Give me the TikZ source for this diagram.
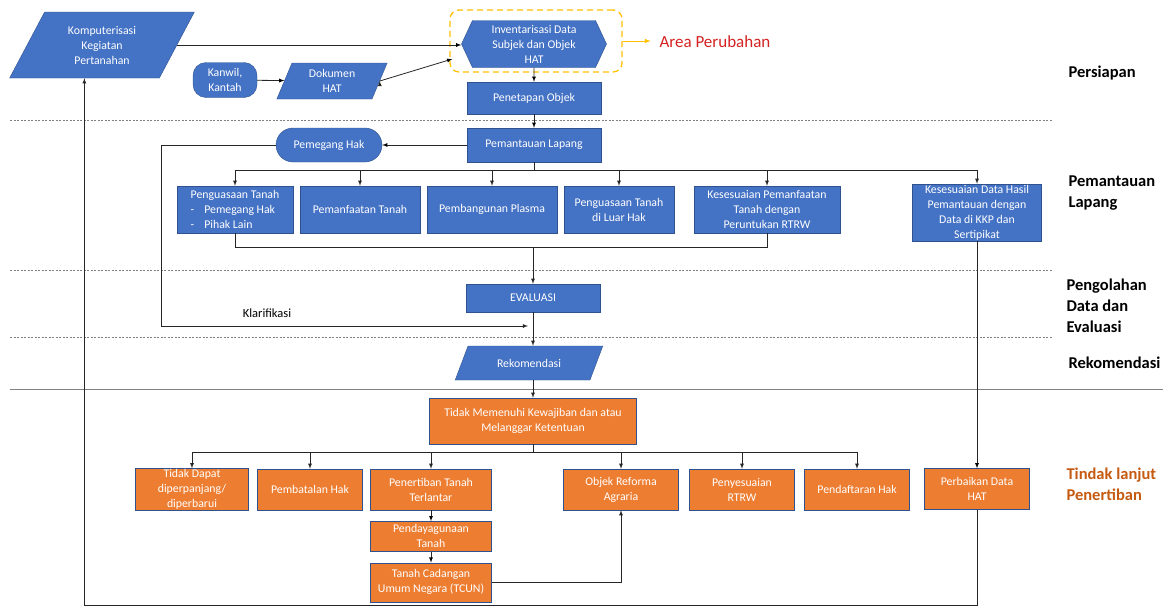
\documentclass[tikz,border=0pt]{standalone}
\usepackage{fontspec}
\setmainfont{Carlito}
\usepackage{tikz}
\usetikzlibrary{arrows}
\usetikzlibrary{positioning}
\usetikzlibrary{shapes.geometric}
\usetikzlibrary{shapes.symbols}

\definecolor{boxblue}{HTML}{4472C4}
\definecolor{lineblue}{HTML}{2F528F}
\definecolor{boxorange}{HTML}{ED7D31}
\definecolor{areagold}{HTML}{FFC000}
\definecolor{areared}{HTML}{D42222}
\definecolor{phaseorange}{HTML}{C55A11}
\definecolor{sepgray}{HTML}{808080}

\tikzset{
    box/.style={draw=lineblue, fill=boxblue, text=white, align=center, inner sep=1pt,
        font=\fontsize{11.8}{15}\selectfont},
    obox/.style={box, fill=boxorange},
    io/.style={box, trapezium, trapezium stretches=true},
    term/.style={box, rounded corners=#1},
    prep/.style={box, signal, signal to=west and east, signal pointer angle=130},
    phase/.style={anchor=west, align=left, font=\fontsize{16.5}{21}\selectfont\bfseries},
    sep/.style={draw=sepgray, line width=0.6pt, dash pattern=on 2pt off 1.5pt},
    conn/.style={draw=black!85, line width=0.8pt},
}

\begin{document}
\begin{tikzpicture}[x=1pt, y=-1pt, >=latex, node distance=10pt]
        \useasboundingbox (0,0) rectangle (1172,608);

        % persiapan
        \node [io, trapezium left angle=62, trapezium right angle=118,
            minimum width=185, minimum height=66] (komp) at (102,45)
            {Komputerisasi\\Kegiatan\\Pertanahan};
        \node [term=13pt, minimum width=64, minimum height=35] (kanwil) at (225,80) {Kanwil,\\Kantah};
        \node [io, trapezium left angle=70, trapezium right angle=110,
            minimum width=111, minimum height=36] (dok) at (332,81) {Dokumen\\HAT};
        \node [prep, minimum width=145, minimum height=47] (inv) at (534,44)
            {Inventarisasi Data\\Subjek dan Objek\\HAT};
        \node [draw=areagold, line width=1.3pt, dash pattern=on 6pt off 4pt, rounded corners=9pt,
            minimum width=172, minimum height=62] (area) at (536,41) {};
        \node [anchor=west, text=areared, font=\fontsize{17}{20}\selectfont] (arealbl) at (656,42) {Area Perubahan};
        \node [box, minimum width=134, minimum height=32] (penetapan) at (534,98) {Penetapan Objek};

        % pemantauan lapang
        \node [box, minimum width=134, minimum height=34] (pemantauan) at (534,145) {Pemantauan Lapang};
        \node [term=17pt, minimum width=106, minimum height=34] (pemegang) at (329,145) {Pemegang Hak};
        \node [box, align=left, minimum width=116, minimum height=47] (pt1) at (235,209.5)
            {Penguasaan Tanah\\-\hspace{10pt}Pemegang Hak\\-\hspace{10pt}Pihak Lain};
        \node [box, minimum width=120, minimum height=47] (pt2) at (360,209.5) {Pemanfaatan Tanah};
        \node [box, minimum width=130, minimum height=47] (pt3) at (492,209.5) {Pembangunan Plasma};
        \node [box, minimum width=110, minimum height=47] (pt4) at (619,209.5) {Penguasaan Tanah\\di Luar Hak};
        \node [box, minimum width=146, minimum height=47] (pt5) at (767,209.5)
            {Kesesuaian Pemanfaatan\\Tanah dengan\\Peruntukan RTRW};
        \node [box, minimum width=129, minimum height=55] (pt6) at (977,212.5)
            {Kesesuaian Data Hasil\\Pemantauan dengan\\Data di KKP dan\\Sertipikat};

        % evaluasi dan rekomendasi
        \node [box, minimum width=134, minimum height=28] (evaluasi) at (533,298) {EVALUASI};
        \node [io, trapezium left angle=56, trapezium right angle=124,
            minimum width=148, minimum height=34] (rekom) at (529,363) {Rekomendasi};
        \node [font=\fontsize{12.5}{14}\selectfont] (klarlbl) at (267,313) {Klarifikasi};
        \coordinate (klar) at (528,326);
        \coordinate (join) at (533,247);

        % tindak lanjut
        \node [obox, minimum width=207, minimum height=46] (tidak) at (533,421)
            {Tidak Memenuhi Kewajiban dan atau\\Melanggar Ketentuan};
        \node [obox, minimum width=113, minimum height=41] (tdp) at (192,489.5) {Tidak Dapat\\diperpanjang/\\diperbarui};
        \node [obox, minimum width=105, minimum height=41] (pbh) at (310,489.5) {Pembatalan Hak};
        \node [obox, minimum width=121, minimum height=41] (ptt) at (431,489.5) {Penertiban Tanah\\Terlantar};
        \node [obox, minimum width=115, minimum height=41] (ora) at (621,489.5) {Objek Reforma\\Agraria};
        \node [obox, minimum width=105, minimum height=41] (prt) at (742,489.5) {Penyesuaian\\RTRW};
        \node [obox, minimum width=105, minimum height=41] (pdh) at (857,489.5) {Pendaftaran Hak};
        \node [obox, minimum width=105, minimum height=41] (pdt) at (977,489) {Perbaikan Data\\HAT};
        \node [obox, minimum width=121, minimum height=30] (pdy) [below=11pt of ptt] {Pendayagunaan\\Tanah};
        \node [obox, minimum width=121, minimum height=39] (tcun) [below=11pt of pdy] {Tanah Cadangan\\Umum Negara (TCUN)};

        % tahap
        \node [phase] (ph1) at (1065,73) {Persiapan};
        \node [phase] (ph2) at (1065,193) {Pemantauan\\Lapang};
        \node [phase] (ph3) at (1063,306) {Pengolahan\\Data dan\\Evaluasi};
        \node [phase] (ph4) at (1065,363) {Rekomendasi};
        \node [phase, text=phaseorange] (ph5) at (1063,484) {Tindak lanjut\\Penertiban};

        % pemisah
        \draw [sep] (10,120) -- (1053,120);
        \draw [sep] (10,270) -- (1053,270);
        \draw [sep] (10,337) -- (1053,337);
        \draw [draw=sepgray, line width=1pt] (10,389) -- (1163,389);

        % alur
        \draw [->, draw=areagold, line width=1pt] (area.east) -- ++(28,0);
        \path [conn, ->]
            (komp.east) edge (inv.west |- komp.east)
            (kanwil) edge (dok)
            (dok.east) edge ([shift={(-9,15)}]inv.west)
            (inv) edge (penetapan)
            (penetapan) edge (pemantauan)
            (pemantauan) edge (pemegang)
            (ptt) edge (pdy)
            (pdy) edge (tcun)
            (pt6) edge (pdt);
        \draw [conn, ->] (evaluasi.south) -- (evaluasi.south |- rekom.north);
        \draw [conn, ->] (tidak.north |- 0,380) -- (tidak.north);
        \draw [conn] (pemantauan.south) -- ++(0,8) coordinate (b1);
        \foreach \n in {pt1,pt2,pt3,pt4,pt5,pt6}
            \draw [conn, ->] (b1) -| (\n.north);
        \draw [conn] (pt1.south) -- ++(0,14) -| (pt5.south);
        \draw [conn, ->] (join) -- (evaluasi);
        \draw [conn, ->] (pemegang.west) -- ++(-114,0) |- (klar);
        \draw [conn] (tidak.south) -- ++(0,8) coordinate (b2);
        \foreach \n in {tdp,pbh,ptt,ora,prt,pdh}
            \draw [conn, ->] (b2) -| (\n.north);
        \draw [conn, ->] (tcun.east) -| (ora.south);
        \draw [conn, ->] (pdt.south) -- ++(0,95.5) -| (komp.bottom side);
    \end{tikzpicture}
\end{document}
